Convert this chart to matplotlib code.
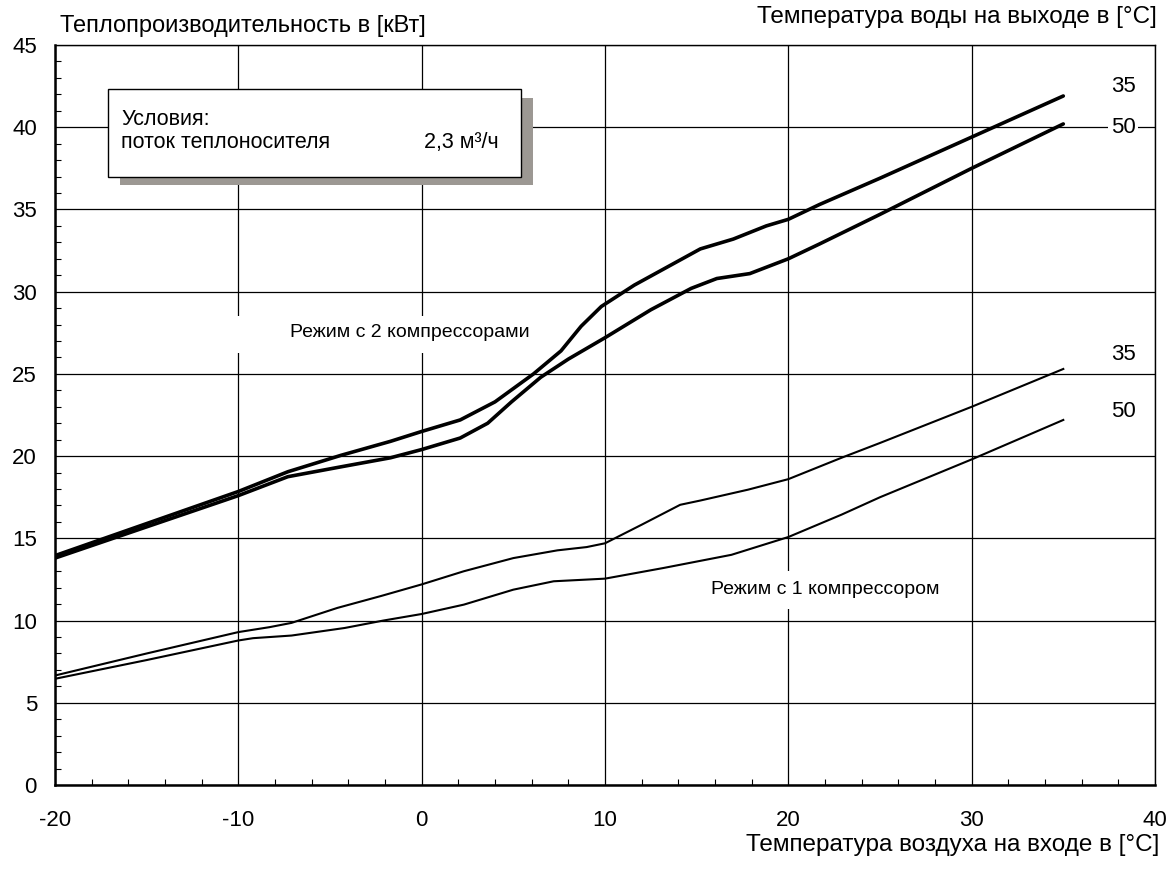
import matplotlib.pyplot as plt
from matplotlib.patches import Rectangle
from matplotlib.ticker import MultipleLocator

plt.rcParams['font.family'] = ['Liberation Sans', 'DejaVu Sans']
plt.rcParams['axes.unicode_minus'] = False

# outside air temperature [degC] and heat output [kW]
# two compressors, flow temperature 35
x_two_35 = [-20, -15, -10, -7.3, -4.4, -1.7, 0, 2.1, 4, 6.1, 7.6, 8.7, 9.8, 11.6, 13.4, 15.2, 17, 18.8, 20, 21.7, 25, 30, 35]
two_35 = [13.95, 15.9, 17.85, 19.05, 20.05, 20.9, 21.5, 22.2, 23.3, 25.0, 26.4, 27.9, 29.1, 30.4, 31.5, 32.6, 33.2, 34.0, 34.4, 35.3, 36.9, 39.4, 41.9]
# two compressors, flow temperature 50
x_two_50 = [-20, -15, -10, -7.3, -4.4, -1.7, 0, 2.1, 3.6, 4.9, 6.5, 8, 10, 12.5, 14.7, 16.1, 17.9, 20, 21.7, 25, 30, 35]
two_50 = [13.8, 15.7, 17.6, 18.75, 19.35, 19.9, 20.4, 21.1, 22.0, 23.3, 24.8, 25.9, 27.2, 28.9, 30.2, 30.8, 31.1, 32.0, 32.9, 34.7, 37.5, 40.2]

# one compressor, flow temperature 35
x_one_35 = [-20, -15, -10, -8.3, -7.1, -4.6, -2.2, 0, 2.3, 5, 7.4, 9, 10, 12, 14.1, 15.2, 17.8, 20, 22.9, 25, 30, 35]
one_35 = [6.66, 8.0, 9.3, 9.6, 9.86, 10.77, 11.5, 12.2, 13.0, 13.8, 14.27, 14.47, 14.7, 15.83, 17.04, 17.3, 17.96, 18.6, 19.9, 20.8, 23.0, 25.3]
# one compressor, flow temperature 50
x_one_50 = [-20, -15, -10, -9.2, -7.1, -4.2, -2.1, 0, 2.3, 5, 7.2, 10, 13.2, 16.9, 20, 22.9, 25, 30, 35]
one_50 = [6.46, 7.6, 8.79, 8.93, 9.09, 9.55, 10.0, 10.4, 10.97, 11.88, 12.39, 12.55, 13.2, 14.0, 15.08, 16.44, 17.5, 19.8, 22.2]

fig = plt.figure(figsize=(11.76, 8.74), dpi=100)
ax = fig.add_axes([0.0468, 0.1018, 0.9353, 0.8467])

ax.plot(x_two_35, two_35, color='black', lw=2.6, solid_capstyle='round', solid_joinstyle='round', zorder=3)
ax.plot(x_two_50, two_50, color='black', lw=2.6, solid_capstyle='round', solid_joinstyle='round', zorder=3)
ax.plot(x_one_35, one_35, color='black', lw=1.5, solid_joinstyle='round', zorder=3)
ax.plot(x_one_50, one_50, color='black', lw=1.5, solid_joinstyle='round', zorder=3)

ax.set_xlim(-20, 40)
ax.set_ylim(0, 45)
ax.xaxis.set_major_locator(MultipleLocator(10))
ax.yaxis.set_major_locator(MultipleLocator(5))
ax.xaxis.set_minor_locator(MultipleLocator(2))
ax.yaxis.set_minor_locator(MultipleLocator(1))
ax.grid(True, which='major', color='black', lw=0.9)
ax.tick_params(which='both', direction='in', top=False, right=False, labelsize=16)
ax.tick_params(which='major', length=0)
ax.tick_params(which='minor', length=4.5, width=0.8)
ax.tick_params(axis='y', which='major', pad=13)
ax.tick_params(axis='x', which='major', pad=18)
for s in ['left', 'bottom']:
    ax.spines[s].set_linewidth(1.8)
for s in ['top', 'right']:
    ax.spines[s].set_linewidth(1.0)

# conditions box with shadow
ax.add_patch(Rectangle((-16.45, 36.5), 22.5, 5.3, facecolor='#9c9893', edgecolor='none', zorder=4))
ax.add_patch(Rectangle((-17.1, 37.0), 22.5, 5.3, facecolor='white', edgecolor='black', lw=1.0, zorder=5))
ax.text(-16.4, 40.5, 'Условия:', fontsize=15.5, va='center', zorder=6)
ax.text(-16.4, 39.05, 'поток теплоносителя', fontsize=15.5, va='center', zorder=6)
ax.text(4.2, 39.05, '2,3 м³/ч', fontsize=15.5, va='center', ha='right', zorder=6)

# white gaps behind the mode labels
ax.add_patch(Rectangle((-11, 26.3), 17, 2.2, facecolor='white', edgecolor='none', zorder=2))
ax.add_patch(Rectangle((15.2, 10.7), 13.5, 2.3, facecolor='white', edgecolor='none', zorder=2))
ax.text(-7.2, 27.5, 'Режим с 2 компрессорами', fontsize=14, ha='left', va='center', zorder=6)
ax.text(15.8, 11.9, 'Режим с 1 компрессором', fontsize=14, ha='left', va='center', zorder=6)

for label, yv in [('35', 42.45), ('50', 40.0), ('35', 26.15), ('50', 22.7)]:
    ax.text(38.27, yv, label, fontsize=16, ha='center', va='center', zorder=6,
            bbox=dict(facecolor='white', edgecolor='none', pad=2))

fig.text(0.051, 0.9634, 'Теплопроизводительность в [кВт]', fontsize=17, ha='left', va='baseline')
fig.text(0.984, 0.9737, 'Температура воды на выходе в [°C]', fontsize=17.5, ha='right', va='baseline')
fig.text(0.986, 0.026, 'Температура воздуха на входе в [°C]', fontsize=17.5, ha='right', va='baseline')

fig.savefig('out.png', dpi=100)
